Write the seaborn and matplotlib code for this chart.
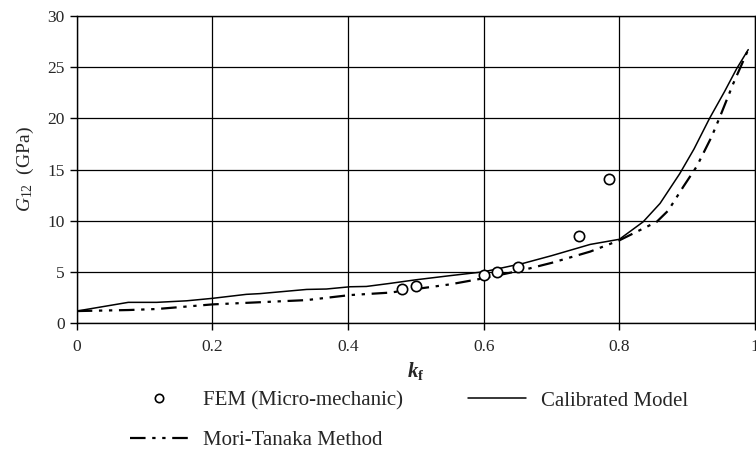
import matplotlib
matplotlib.use("Agg")
import matplotlib.pyplot as plt
import seaborn as sns
import pandas as pd
from matplotlib.lines import Line2D

# FEM (micro-mechanics) results
fem_kf = [0.48, 0.50, 0.60, 0.62, 0.65, 0.74, 0.785]
fem_g12 = [3.4, 3.6, 4.7, 5.0, 5.5, 8.5, 14.1]

# Calibrated model
cal_kf = [0.0, 0.076, 0.118, 0.162, 0.20, 0.25, 0.27, 0.339, 0.368, 0.403, 0.427,
          0.462, 0.50, 0.55, 0.60, 0.658, 0.70, 0.757, 0.80, 0.835, 0.86, 0.889,
          0.91, 0.933, 0.955, 0.973, 0.99]
cal_g12 = [1.2, 2.05, 2.05, 2.2, 2.44, 2.83, 2.9, 3.31, 3.35, 3.57, 3.6,
           3.9, 4.25, 4.65, 5.03, 5.85, 6.6, 7.7, 8.2, 9.9, 11.7, 14.6,
           17.0, 20.0, 22.6, 24.85, 26.7]

# Mori-Tanaka estimate
mt_kf = [0.0, 0.076, 0.118, 0.20, 0.339, 0.403, 0.462, 0.50, 0.55, 0.60, 0.658,
         0.70, 0.757, 0.80, 0.855, 0.872, 0.894, 0.914, 0.936, 0.948, 0.968, 0.99]
mt_g12 = [1.2, 1.3, 1.4, 1.85, 2.27, 2.76, 3.0, 3.35, 3.8, 4.4, 5.2,
          5.9, 7.0, 8.1, 9.9, 11.0, 13.3, 15.3, 18.2, 20.1, 23.4, 26.7]

x_ticks = [0, 0.2, 0.4, 0.6, 0.8, 1.0]
x_tick_labels = ["0", "0.2", "0.4", "0.6", "0.8", "1"]
y_ticks = [0, 5, 10, 15, 20, 25, 30]

sns.set_style("white")
plt.rcParams["font.family"] = ["Liberation Serif", "DejaVu Serif"]
plt.rcParams["mathtext.fontset"] = "custom"
plt.rcParams["mathtext.rm"] = "Liberation Serif"
plt.rcParams["mathtext.it"] = "Liberation Serif:italic"
plt.rcParams["mathtext.bf"] = "Liberation Serif:bold"
plt.rcParams["mathtext.bfit"] = "Liberation Serif:bold:italic"

fig = plt.figure(figsize=(7.56, 4.51), dpi=100)
ax = fig.add_axes([0.1015, 0.283, 0.8972, 0.682])

cal_df = pd.DataFrame({"kf": cal_kf, "G12": cal_g12})
mt_df = pd.DataFrame({"kf": mt_kf, "G12": mt_g12})
fem_df = pd.DataFrame({"kf": fem_kf, "G12": fem_g12})

mt_dash = (7, 3, 1.5, 3, 1.5, 3)
sns.lineplot(data=mt_df, x="kf", y="G12", ax=ax, color="black", lw=1.6,
             estimator=None, sort=False)
ax.lines[-1].set_dashes(mt_dash)
sns.lineplot(data=cal_df, x="kf", y="G12", ax=ax, color="black", lw=1.1,
             estimator=None, sort=False)
sns.scatterplot(data=fem_df, x="kf", y="G12", ax=ax, marker="o", s=55,
                facecolor="white", edgecolor="black", linewidth=1.2, zorder=5)

ax.set_xlim(0, 1)
ax.set_ylim(0, 30)
ax.set_xticks(x_ticks)
ax.set_xticklabels(x_tick_labels)
ax.set_yticks(y_ticks)
ax.grid(True, color="black", lw=0.9)
ax.set_axisbelow(True)
for sp in ax.spines.values():
    sp.set_color("black")
    sp.set_linewidth(1.0)
ax.tick_params(axis="both", direction="out", length=5, width=1.0,
               color="black", labelsize=12.5, bottom=True, left=True)
ax.tick_params(axis="x", pad=6)

ax.set_xlabel(r"$\mathbfit{k}_{\mathbf{f}}$", fontsize=15, labelpad=4)
ax.set_ylabel(r"$G_{\mathit{12}}$  (GPa)", fontsize=14, labelpad=8)

h_fem = Line2D([], [], ls="none", marker="o", ms=6, mfc="white",
               mec="black", mew=1.2)
h_cal = Line2D([], [], color="black", lw=1.1)
h_mt = Line2D([], [], color="black", lw=1.6, dashes=mt_dash)
fig.legend([h_fem, h_mt, h_cal],
           ["FEM (Micro-mechanic)", "Mori-Tanaka Method", "Calibrated Model"],
           ncol=2, loc="upper left", bbox_to_anchor=(0.172, 0.133),
           frameon=False, fontsize=15, handlelength=2.8, handletextpad=0.72,
           columnspacing=3.1, labelspacing=0.95, borderpad=0, borderaxespad=0)

fig.savefig("out.png", dpi=100)
